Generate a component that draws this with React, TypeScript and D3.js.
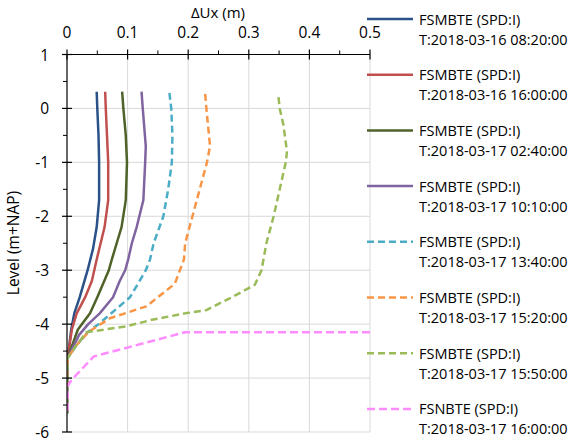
import React from "react";
import * as d3 from "d3";

const xTicks = [0, 0.1, 0.2, 0.3, 0.4, 0.5];
const yTicks = [1, 0, -1, -2, -3, -4, -5, -6];

const seriesNames = [
  "FSMBTE (SPD:I)", "FSMBTE (SPD:I)", "FSMBTE (SPD:I)", "FSMBTE (SPD:I)",
  "FSMBTE (SPD:I)", "FSMBTE (SPD:I)", "FSMBTE (SPD:I)", "FSNBTE (SPD:I)",
];
const seriesTimes = [
  "T:2018-03-16 08:20:00", "T:2018-03-16 16:00:00", "T:2018-03-17 02:40:00",
  "T:2018-03-17 10:10:00", "T:2018-03-17 13:40:00", "T:2018-03-17 15:20:00",
  "T:2018-03-17 15:50:00", "T:2018-03-17 16:00:00",
];
const colors = ["#2A5289", "#C0504D", "#4F6228", "#8064A2", "#4BACC6", "#F79646", "#9BBB59", "#FF8CFF"];
const dashed = [false, false, false, false, true, true, true, true];

// ΔUx (m) and level (m+NAP)
const s1Level = [0.31, 0, -0.5, -1, -1.7, -2.2, -2.6, -3.0, -3.5, -3.8, -4.1, -4.63, -5.0, -5.65];
const s1Ux = [0.049, 0.05, 0.052, 0.053, 0.053, 0.049, 0.043, 0.034, 0.021, 0.012, 0.007, 0.001, 0, 0];
const s2Level = [0.31, 0, -0.5, -1, -1.7, -2.2, -2.8, -3.2, -3.5, -3.8, -4.1, -4.63, -5.0, -5.65];
const s2Ux = [0.063, 0.064, 0.066, 0.068, 0.068, 0.062, 0.049, 0.041, 0.03, 0.016, 0.008, 0.001, 0, 0];
const s3Level = [0.31, 0, -0.5, -1, -1.7, -2.2, -2.5, -2.8, -3.0, -3.5, -3.8, -4.1, -4.63, -5.0, -5.65];
const s3Ux = [0.091, 0.093, 0.097, 0.099, 0.097, 0.09, 0.082, 0.074, 0.069, 0.05, 0.038, 0.018, 0.001, 0, 0];
const s4Level = [0.31, 0, -0.7, -1, -1.7, -2.2, -2.5, -2.8, -3.0, -3.2, -3.5, -3.8, -4.0, -4.2, -4.63, -5.0, -5.65];
const s4Ux = [0.123, 0.125, 0.13, 0.129, 0.126, 0.115, 0.107, 0.101, 0.096, 0.087, 0.076, 0.054, 0.035, 0.02, 0.001, 0, 0];
const s5Level = [0.29, 0, -0.5, -1, -1.5, -2, -2.5, -2.8, -3.0, -3.5, -3.79, -4.0, -4.15, -4.4, -4.63, -5.0, -5.65];
const s5Ux = [0.169, 0.172, 0.174, 0.173, 0.167, 0.159, 0.143, 0.137, 0.13, 0.104, 0.074, 0.052, 0.034, 0.015, 0.001, 0, 0];
const s6Level = [0.27, 0, -0.7, -1, -1.5, -2, -2.5, -2.8, -3.25, -3.67, -3.89, -4.04, -4.15, -4.4, -4.63, -5.0, -5.65];
const s6Ux = [0.228, 0.23, 0.236, 0.231, 0.219, 0.207, 0.195, 0.193, 0.178, 0.131, 0.071, 0.05, 0.035, 0.015, 0.001, 0, 0];
const s7Level = [0.21, 0, -0.3, -0.8, -1, -1.5, -2, -2.5, -3.0, -3.27, -3.49, -3.74, -3.8, -3.92, -4.04, -4.15, -4.4, -4.63, -5.0, -5.65];
const s7Ux = [0.349, 0.351, 0.357, 0.363, 0.361, 0.351, 0.341, 0.329, 0.321, 0.31, 0.274, 0.23, 0.195, 0.14, 0.098, 0.032, 0.015, 0.001, 0, 0];
const s8Level = [-4.15, -4.15, -4.6, -5.03, -5.15, -5.65];
const s8Ux = [0.5, 0.195, 0.044, 0.008, 0.001, 0.001];

const levels = [s1Level, s2Level, s3Level, s4Level, s5Level, s6Level, s7Level, s8Level];
const uxs = [s1Ux, s2Ux, s3Ux, s4Ux, s5Ux, s6Ux, s7Ux, s8Ux];

const W = 584, H = 445;
const L = 67, R = 370, T = 54.5, B = 432;
const FONT = "'Open Sans', 'Noto Sans', sans-serif";

export default function App() {
  const x = d3.scaleLinear().domain([0, 0.5]).range([L, R]);
  const y = d3.scaleLinear().domain([1, -6]).range([T, B]);
  const line = d3.line<[number, number]>().x(d => x(d[0])).y(d => y(d[1]));
  const minorX = d3.range(0.05, 0.5, 0.1);
  const minorY = d3.range(0.5, -6, -1);
  const legY0 = 19, legDY = 55.7;

  return (
    <svg width={W} height={H} style={{ position: "absolute", left: 0, top: 0, background: "#fff" }}>
      <defs>
        <clipPath id="plot"><rect x={L} y={T} width={R - L + 2} height={B - T} /></clipPath>
      </defs>
      {xTicks.filter(v => v > 0).map(v => (
        <line key={"gx" + v} x1={x(v)} x2={x(v)} y1={T} y2={B} stroke="#D9D9D9" strokeWidth={1} />
      ))}
      {yTicks.filter(v => v < 1).map(v => (
        <line key={"gy" + v} x1={L} x2={R} y1={y(v)} y2={y(v)} stroke="#D9D9D9" strokeWidth={1} />
      ))}
      <g clipPath="url(#plot)">
        {levels.map((lv, i) => (
          <path key={"s" + i}
            d={line(lv.map((l, j) => [uxs[i][j], l] as [number, number])) || ""}
            fill="none" stroke={colors[i]} strokeWidth={2.5}
            strokeDasharray={dashed[i] ? (i === 7 ? "8,4" : "7,4") : undefined}
            strokeLinejoin="round" />
        ))}
      </g>
      <line x1={L} x2={R} y1={T} y2={T} stroke="#000" strokeWidth={1.2} />
      <line x1={L} x2={L} y1={T} y2={B} stroke="#000" strokeWidth={1.2} />
      {xTicks.map(v => (
        <line key={"tx" + v} x1={x(v)} x2={x(v)} y1={T - 5} y2={T + 5} stroke="#000" strokeWidth={1.2} />
      ))}
      {minorX.map(v => (
        <line key={"mx" + v} x1={x(v)} x2={x(v)} y1={T - 4} y2={T} stroke="#000" strokeWidth={1} />
      ))}
      {yTicks.map(v => (
        <line key={"ty" + v} x1={L - 5} x2={L + 5} y1={y(v)} y2={y(v)} stroke="#000" strokeWidth={1.2} />
      ))}
      {minorY.map(v => (
        <line key={"my" + v} x1={L - 4} x2={L} y1={y(v)} y2={y(v)} stroke="#000" strokeWidth={1} />
      ))}
      {xTicks.map(v => (
        <text key={"lx" + v} x={x(v)} y={32} textAnchor="middle" dominantBaseline="central"
          fontFamily={FONT} fontSize={15.5} fill="#000">{String(v)}</text>
      ))}
      {yTicks.map(v => (
        <text key={"ly" + v} x={49} y={y(v)} textAnchor="end" dominantBaseline="central"
          fontFamily={FONT} fontSize={15.5} fill="#000">{String(v)}</text>
      ))}
      <text x={218} y={12} textAnchor="middle" dominantBaseline="central" fontFamily={FONT} fontSize={15} fill="#000">ΔUx (m)</text>
      <text transform={`translate(13,243) rotate(-90)`} textAnchor="middle" dominantBaseline="central"
        fontFamily={FONT} fontSize={15.5} fill="#000">Level (m+NAP)</text>
      {seriesNames.map((n, i) => {
        const ly = legY0 + legDY * i;
        return (
          <g key={"lg" + i}>
            <line x1={367} x2={413} y1={ly} y2={ly} stroke={colors[i]} strokeWidth={2.5}
              strokeDasharray={dashed[i] ? (i === 7 ? "8,4" : "7,4") : undefined} />
            <text x={419} y={ly} dominantBaseline="central" fontFamily={FONT} fontSize={14.5} fill="#000">{n}</text>
            <text x={419} y={ly + 20} dominantBaseline="central" fontFamily={FONT} fontSize={14.5} fill="#000">{seriesTimes[i]}</text>
          </g>
        );
      })}
    </svg>
  );
}
